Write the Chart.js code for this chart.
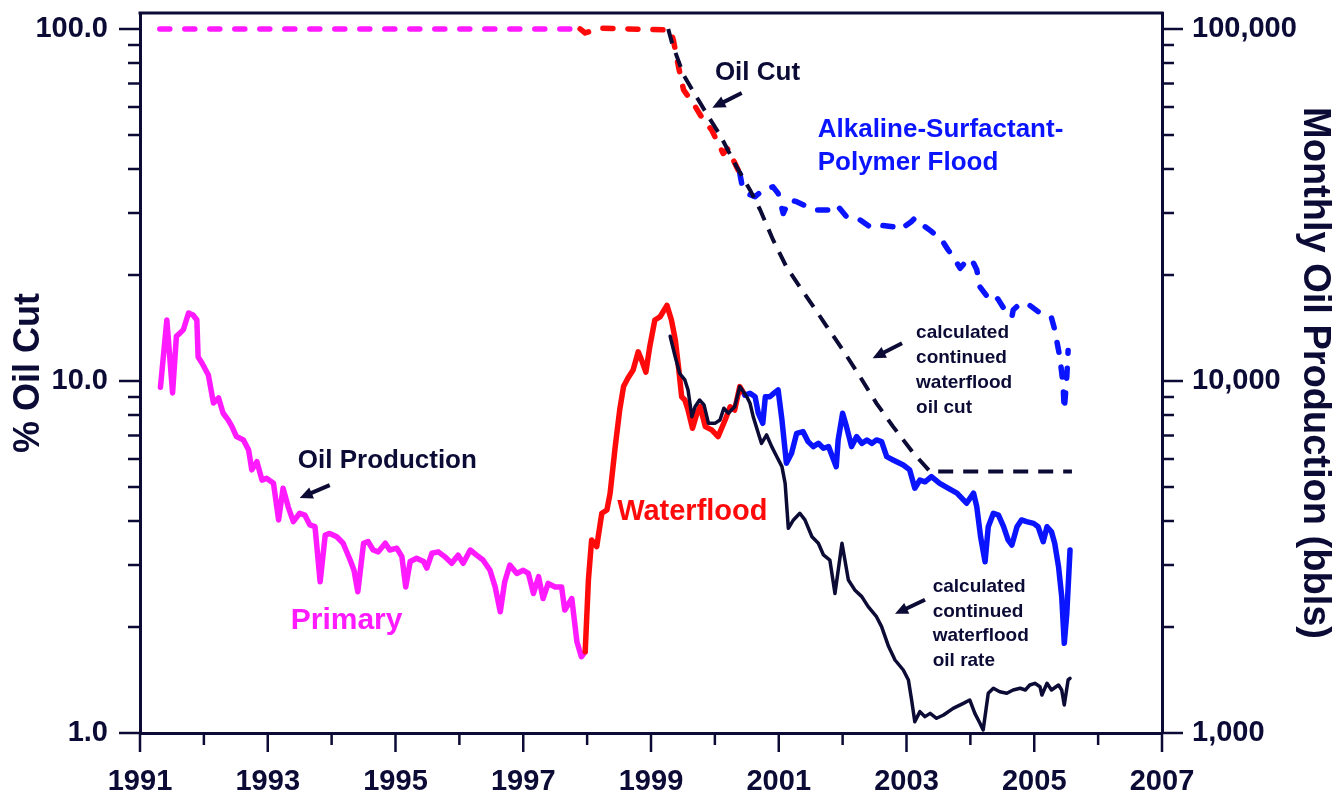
<!DOCTYPE html>
<html>
<head>
<meta charset="utf-8">
<title>Oil cut and monthly oil production</title>
<script src="https://cdn.jsdelivr.net/npm/chart.js@4"></script>
<style>
  html, body { margin: 0; padding: 0; background: #fff; }
  canvas { display: block; }
</style>
</head>
<body>
<canvas id="oilChart" width="1337" height="798"></canvas>
<script>
// tick values and labels
const yearTicks = [1991, 1992, 1993, 1994, 1995, 1996, 1997, 1998, 1999, 2000, 2001, 2002, 2003, 2004, 2005, 2006, 2007];
const yearLabels = ['1991', '1993', '1995', '1997', '1999', '2001', '2003', '2005', '2007'];
const cutTicks = [1, 2, 3, 4, 5, 6, 7, 8, 9, 10, 20, 30, 40, 50, 60, 70, 80, 90, 100];
const cutMajor = [1, 10, 100];
const cutLabels = ['1.0', '10.0', '100.0'];
const rateTicks = [1000, 2000, 3000, 4000, 5000, 6000, 7000, 8000, 9000, 10000, 20000, 30000, 40000, 50000, 60000, 70000, 80000, 90000, 100000];
const rateMajor = [1000, 10000, 100000];
const rateLabels = ['1,000', '10,000', '100,000'];

// monthly oil production, bbls  [year, value]
const primaryRate = [[1991.32,9600],[1991.42,14900],[1991.51,9250],[1991.57,13400],[1991.63,13700],[1991.68,14000],[1991.76,15600],[1991.83,15400],[1991.89,14900],[1991.91,11700],[1991.97,11250],[1992.07,10400],[1992.15,8660],[1992.23,8950],[1992.30,8110],[1992.38,7750],[1992.44,7420],[1992.51,6950],[1992.62,6800],[1992.70,6370],[1992.75,5590],[1992.83,5900],[1992.91,5230],[1992.98,5290],[1993.09,5120],[1993.17,4030],[1993.24,4960],[1993.32,4390],[1993.40,3985],[1993.50,4210],[1993.58,4160],[1993.66,3900],[1993.74,3855],[1993.82,2690],[1993.90,3650],[1993.97,3690],[1994.08,3610],[1994.18,3460],[1994.29,3100],[1994.35,2900],[1994.41,2520],[1994.50,3460],[1994.57,3500],[1994.65,3310],[1994.73,3270],[1994.84,3460],[1994.91,3310],[1995.02,3350],[1995.10,3170],[1995.16,2600],[1995.23,3070],[1995.33,3135],[1995.44,3070],[1995.49,2940],[1995.57,3240],[1995.67,3270],[1995.77,3170],[1995.88,3035],[1995.98,3200],[1996.06,3035],[1996.17,3310],[1996.27,3200],[1996.37,3100],[1996.48,2900],[1996.56,2600],[1996.64,2210],[1996.71,2690],[1996.79,3000],[1996.90,2840],[1997.00,2900],[1997.08,2840],[1997.16,2490],[1997.24,2780],[1997.31,2410],[1997.39,2660],[1997.50,2600],[1997.60,2600],[1997.65,2235],[1997.76,2410],[1997.84,1817],[1997.91,1647],[1997.97,1702]];
const waterfloodRate = [[1997.97,1702],[1998.02,2720],[1998.07,3535],[1998.15,3385],[1998.23,4210],[1998.31,4300],[1998.36,4800],[1998.44,6510],[1998.51,8270],[1998.57,9640],[1998.64,10200],[1998.72,10750],[1998.80,12100],[1998.85,11500],[1998.92,10600],[1998.98,12500],[1999.06,14900],[1999.14,15200],[1999.25,16400],[1999.32,14900],[1999.38,13100],[1999.43,10980],[1999.48,9020],[1999.53,8830],[1999.58,8270],[1999.65,7340],[1999.72,8100],[1999.77,8450],[1999.85,7420],[1999.95,7260],[2000.05,6950],[2000.16,7750],[2000.24,8450],[2000.31,8270],[2000.39,9640],[2000.47,9120]];
const aspRate = [[2000.47,9120],[2000.55,9230],[2000.63,9020],[2000.68,8100],[2000.75,7580],[2000.79,9020],[2000.86,9020],[2000.93,9250],[2000.99,9430],[2001.05,7750],[2001.12,5840],[2001.20,6230],[2001.28,7100],[2001.38,7180],[2001.46,6725],[2001.54,6510],[2001.62,6650],[2001.70,6440],[2001.78,6510],[2001.83,6165],[2001.90,5710],[2001.93,6800],[2002.00,8100],[2002.06,7420],[2002.14,6510],[2002.22,6950],[2002.30,6650],[2002.38,6800],[2002.46,6650],[2002.53,6800],[2002.61,6725],[2002.69,6095],[2002.79,5965],[2002.95,5770],[2003.05,5590],[2003.13,4960],[2003.21,5230],[2003.29,5170],[2003.39,5350],[2003.52,5120],[2003.65,4960],[2003.79,4800],[2003.94,4495],[2004.05,4800],[2004.10,4395],[2004.16,3610],[2004.23,3065],[2004.28,3855],[2004.36,4210],[2004.44,4160],[2004.52,3855],[2004.59,3535],[2004.65,3420],[2004.73,3855],[2004.80,4030],[2004.88,3985],[2004.99,3940],[2005.06,3855],[2005.14,3495],[2005.20,3855],[2005.27,3730],[2005.32,3460],[2005.38,2970],[2005.43,2440],[2005.47,1798],[2005.51,2190],[2005.56,3310]];
const calcRate = [[1999.30,13400],[1999.38,11700],[1999.45,10500],[1999.53,10070],[1999.58,9430],[1999.64,7920],[1999.69,8450],[1999.76,8830],[1999.83,8550],[1999.90,7580],[2000.00,7580],[2000.08,7750],[2000.14,8365],[2000.21,8100],[2000.31,8450],[2000.39,9640],[2000.50,9020],[2000.55,8645],[2000.60,7920],[2000.68,7100],[2000.73,6650],[2000.81,7025],[2000.89,6510],[2000.97,6095],[2001.05,5710],[2001.10,5120],[2001.15,3815],[2001.23,4030],[2001.33,4210],[2001.41,4030],[2001.52,3610],[2001.62,3460],[2001.70,3205],[2001.80,3100],[2001.88,2490],[2001.99,3460],[2002.09,2720],[2002.19,2550],[2002.30,2440],[2002.40,2285],[2002.53,2140],[2002.61,2005],[2002.72,1760],[2002.82,1612],[2002.95,1510],[2003.03,1415],[2003.08,1241],[2003.13,1077],[2003.21,1150],[2003.29,1113],[2003.37,1137],[2003.47,1101],[2003.58,1125],[2003.73,1175],[2003.89,1214],[2003.99,1241],[2004.07,1137],[2004.15,1066],[2004.20,1020],[2004.28,1297],[2004.36,1340],[2004.46,1310],[2004.57,1297],[2004.67,1325],[2004.78,1340],[2004.86,1325],[2004.93,1369],[2005.01,1384],[2005.09,1354],[2005.12,1282],[2005.20,1384],[2005.27,1325],[2005.38,1369],[2005.43,1325],[2005.47,1201],[2005.53,1415],[2005.56,1430]];

// oil cut, %  [year, value]
const primaryCut = [[1991.31,100],[1997.89,100]];
const waterfloodCut = [[1997.89,100],[1997.97,97.4],[1998.20,100.5],[1999.30,99.3],[1999.35,93.1],[1999.43,78.2],[1999.51,67.1],[1999.66,61.5],[1999.79,56.3],[1999.95,51.6],[2000.05,47.4],[2000.13,44.3],[2000.21,45.8],[2000.29,42.4],[2000.39,38.9]];
const aspCut = [[2000.39,38.9],[2000.42,36.4],[2000.50,34.1],[2000.63,33.4],[2000.76,34.9],[2000.91,35.6],[2000.99,34.1],[2001.07,29.9],[2001.12,31.3],[2001.18,32.7],[2001.28,32.3],[2001.44,31.3],[2001.59,30.6],[2001.80,30.6],[2001.91,31.6],[2002.06,29.3],[2002.27,28.7],[2002.43,27.4],[2002.59,27.7],[2002.79,27.4],[2002.90,26.9],[2003.08,28.4],[2003.13,29.0],[2003.26,27.7],[2003.39,26.6],[2003.55,25.2],[2003.65,23.6],[2003.76,22.1],[2003.84,20.9],[2003.97,22.3],[2004.05,21.6],[2004.10,20.7],[2004.15,18.5],[2004.26,17.4],[2004.36,17.7],[2004.44,17.0],[2004.54,15.9],[2004.65,15.2],[2004.67,15.9],[2004.78,16.6],[2004.93,16.4],[2005.09,15.6],[2005.27,15.1],[2005.32,14.0],[2005.40,11.7],[2005.45,9.85],[2005.47,8.27],[2005.51,10.3],[2005.53,12.2]];
const calcCut = [[1999.27,100],[1999.33,91.1],[1999.51,74.0],[1999.74,62.9],[1999.90,56.3],[2000.08,50.0],[2000.34,40.6],[2000.55,34.9],[2000.71,30.6],[2000.91,25.2],[2001.12,21.1],[2001.33,18.5],[2001.54,16.3],[2001.75,14.3],[2002.01,12.2],[2002.27,10.3],[2002.53,8.64],[2002.79,7.42],[2003.11,6.23],[2003.37,5.53],[2005.59,5.53]];

const ink = '#0b0b36';
const magenta = '#ff1aff';
const red = '#ff0a0a';
const blue = '#0a14ff';
const fontFamily = '"Liberation Sans", Arial, Helvetica, sans-serif';

// annotation text, placed in chart units (year, % oil cut)
const notes = [
    { lines: ['Oil Cut'], year: 2000.00, cut: 75.0, size: 26, color: ink },
    { lines: ['Alkaline-Surfactant-', 'Polymer Flood'], year: 2001.61, cut: 51.6, size: 26, color: blue, gap: 33 },
    { lines: ['calculated', 'continued', 'waterflood', 'oil cut'], year: 2003.15, cut: 13.7, size: 19, color: ink, gap: 25 },
    { lines: ['calculated', 'continued', 'waterflood', 'oil rate'], year: 2003.41, cut: 2.60, size: 19, color: ink, gap: 24.5 },
    { lines: ['Oil Production'], year: 1993.47, cut: 5.93, size: 26, color: ink },
    { lines: ['Primary'], year: 1993.36, cut: 2.09, size: 30, color: magenta },
    { lines: ['Waterflood'], year: 1998.47, cut: 4.24, size: 29, color: red }
];
const arrows = [
    { from: [2000.42, 65.8], to: [1999.96, 59.7] },
    { from: [2002.93, 12.8], to: [2002.47, 11.6] },
    { from: [2003.29, 2.39], to: [2002.82, 2.18] },
    { from: [1993.97, 5.06], to: [1993.50, 4.65] }
];

function toPoints(pairs) {
    return pairs.map(([x, y]) => ({ x: x, y: y }));
}

function solidLine(label, pairs, color, width, order) {
    return {
        label: label, data: toPoints(pairs), yAxisID: 'y1', order: order,
        borderColor: color, borderWidth: width, borderJoinStyle: 'round', borderCapStyle: 'round'
    };
}

function dashedLine(label, pairs, color, width, dash, cap, order) {
    return {
        label: label, data: toPoints(pairs), yAxisID: 'y', order: order,
        borderColor: color, borderWidth: width, borderDash: dash, borderCapStyle: cap, borderJoinStyle: 'round'
    };
}

// frame top edge, major/minor tick marks and the annotations
const chartDecor = {
    id: 'chartDecor',
    afterDraw(chart) {
        const { ctx, chartArea: area, scales } = chart;
        ctx.save();
        ctx.strokeStyle = ink;
        ctx.lineWidth = 3;
        ctx.beginPath();
        ctx.moveTo(area.left - 1.5, area.top);
        ctx.lineTo(area.right + 1.5, area.top);
        ctx.stroke();

        ctx.lineWidth = 2.5;
        ctx.beginPath();
        yearTicks.forEach(v => {
            const px = scales.x.getPixelForValue(v);
            const len = yearLabels.includes(String(v)) ? 19 : 12;
            ctx.moveTo(px, area.bottom);
            ctx.lineTo(px, area.bottom + len);
        });
        cutTicks.forEach(v => {
            const py = scales.y.getPixelForValue(v);
            const len = cutMajor.includes(v) ? 21 : 12;
            ctx.moveTo(area.left, py);
            ctx.lineTo(area.left - len, py);
        });
        rateTicks.forEach(v => {
            const py = scales.y1.getPixelForValue(v);
            const len = rateMajor.includes(v) ? 21 : 12;
            ctx.moveTo(area.right, py);
            ctx.lineTo(area.right + len, py);
        });
        ctx.stroke();

        // arrows
        ctx.fillStyle = ink;
        arrows.forEach(a => {
            const x0 = scales.x.getPixelForValue(a.from[0]), y0 = scales.y.getPixelForValue(a.from[1]);
            const x1 = scales.x.getPixelForValue(a.to[0]), y1 = scales.y.getPixelForValue(a.to[1]);
            const ang = Math.atan2(y1 - y0, x1 - x0);
            const head = 13;
            ctx.lineWidth = 4;
            ctx.beginPath();
            ctx.moveTo(x0, y0);
            ctx.lineTo(x1 - head * 0.8 * Math.cos(ang), y1 - head * 0.8 * Math.sin(ang));
            ctx.stroke();
            ctx.beginPath();
            ctx.moveTo(x1, y1);
            ctx.lineTo(x1 - head * Math.cos(ang) + 6 * Math.sin(ang), y1 - head * Math.sin(ang) - 6 * Math.cos(ang));
            ctx.lineTo(x1 - head * Math.cos(ang) - 6 * Math.sin(ang), y1 - head * Math.sin(ang) + 6 * Math.cos(ang));
            ctx.closePath();
            ctx.fill();
        });

        // text notes
        ctx.textAlign = 'left';
        ctx.textBaseline = 'middle';
        notes.forEach(n => {
            const x = scales.x.getPixelForValue(n.year);
            const y = scales.y.getPixelForValue(n.cut);
            ctx.font = 'bold ' + n.size + 'px ' + fontFamily;
            ctx.fillStyle = n.color;
            n.lines.forEach((line, i) => ctx.fillText(line, x, y + i * (n.gap || 0)));
        });
        ctx.restore();
    }
};

const tickFont = { family: fontFamily, size: 29, weight: 'bold' };
const titleFont = { family: fontFamily, size: 36, weight: 'bold' };

new Chart(document.getElementById('oilChart'), {
    type: 'line',
    data: {
        datasets: [
            solidLine('Calculated continued waterflood oil rate', calcRate, ink, 3.5, 1),
            solidLine('ASP flood oil production', aspRate, blue, 5.5, 2),
            solidLine('Waterflood oil production', waterfloodRate, red, 5.5, 3),
            solidLine('Primary oil production', primaryRate, magenta, 5.5, 4),
            dashedLine('Calculated continued waterflood oil cut', calcCut, ink, 4, [15, 10], 'butt', 5),
            dashedLine('ASP flood oil cut', aspCut, blue, 5.5, [10, 15], 'round', 6),
            dashedLine('Waterflood oil cut', waterfloodCut, red, 5.5, [10, 15], 'round', 7),
            dashedLine('Primary oil cut', primaryCut, magenta, 5.5, [10, 15], 'round', 8)
        ]
    },
    options: {
        responsive: false,
        animation: false,
        devicePixelRatio: 1,
        layout: { padding: { top: 13, left: 0, right: 0, bottom: 0 } },
        elements: { point: { radius: 0, hoverRadius: 0 }, line: { tension: 0 } },
        plugins: { legend: { display: false }, tooltip: { enabled: false } },
        scales: {
            x: {
                type: 'linear', min: 1991, max: 2007,
                afterBuildTicks: s => { s.ticks = yearTicks.map(v => ({ value: v })); },
                afterFit: s => { s.height = 65; s.paddingLeft = 0; s.paddingRight = 0; },
                grid: { display: false, drawTicks: false },
                border: { display: true, color: ink, width: 3 },
                ticks: {
                    autoSkip: false, maxRotation: 0, padding: 32, color: ink, font: tickFont,
                    callback: v => yearLabels.includes(String(v)) ? String(v) : ''
                }
            },
            y: {
                type: 'logarithmic', position: 'left', min: 1, max: 111.0,
                afterBuildTicks: s => { s.ticks = cutTicks.map(v => ({ value: v })); },
                afterFit: s => { s.width = 140; s.paddingTop = 0; s.paddingBottom = 0; },
                grid: { display: false, drawTicks: false },
                border: { display: true, color: ink, width: 3 },
                ticks: {
                    autoSkip: false, padding: 32, color: ink, font: tickFont,
                    callback: v => cutMajor.includes(v) ? cutLabels[cutMajor.indexOf(v)] : ''
                },
                title: { display: true, text: '% Oil Cut', color: ink, font: titleFont, padding: { top: 7, bottom: 0 } }
            },
            y1: {
                type: 'logarithmic', position: 'right', min: 1000, max: 111000,
                afterBuildTicks: s => { s.ticks = rateTicks.map(v => ({ value: v })); },
                afterFit: s => { s.width = 175; s.paddingTop = 0; s.paddingBottom = 0; },
                grid: { display: false, drawTicks: false },
                border: { display: true, color: ink, width: 3 },
                ticks: {
                    autoSkip: false, padding: 30, color: ink, font: tickFont,
                    callback: v => rateMajor.includes(v) ? rateLabels[rateMajor.indexOf(v)] : ''
                },
                title: { display: true, text: 'Monthly Oil Production (bbls)', color: ink, font: { family: fontFamily, size: 38, weight: 'bold' }, padding: { top: 0, bottom: 0 } }
            }
        }
    },
    plugins: [chartDecor]
});
</script>
</body>
</html>
